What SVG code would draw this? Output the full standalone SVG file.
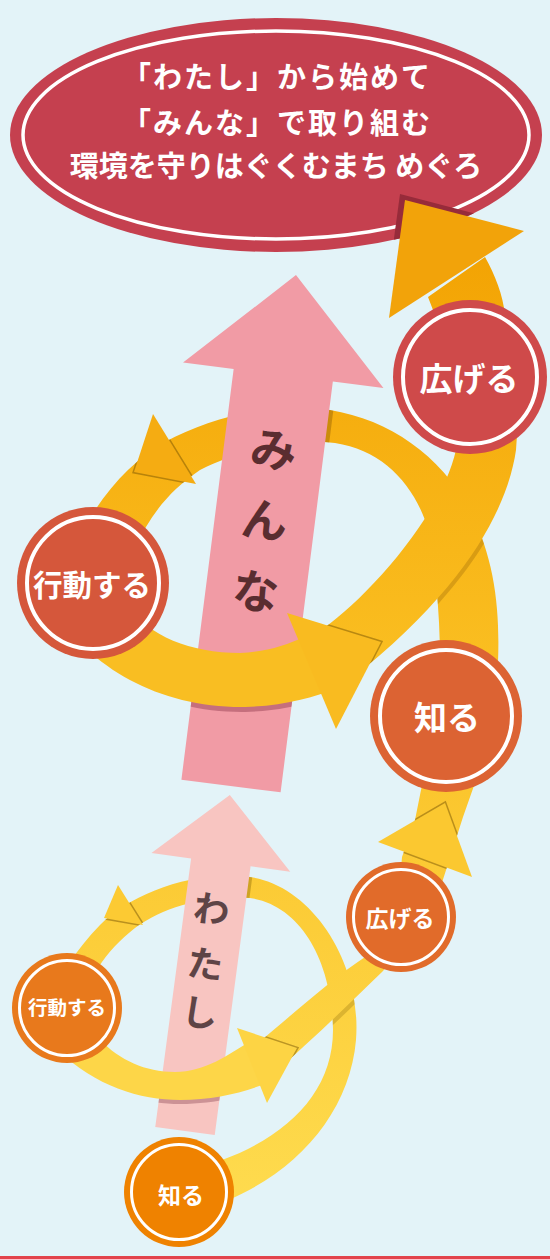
<svg xmlns="http://www.w3.org/2000/svg" width="550" height="1259" viewBox="0 0 550 1259">
<style>
.t{font-family:"Noto Sans CJK JP","Noto Sans",sans-serif;font-weight:700;text-anchor:middle;dominant-baseline:central}
.w{fill:#fff}
.ring{fill:none;stroke:#fff}
.pk{fill:#5a2d30}
.sh{fill:none;stroke:#6b4a00;stroke-opacity:0.45;stroke-width:3;stroke-linejoin:miter}
</style>
<defs>
<linearGradient id="gBig" gradientUnits="userSpaceOnUse" x1="0" y1="200" x2="0" y2="720">
<stop offset="0" stop-color="#f2a000"/><stop offset="1" stop-color="#fbc225"/>
</linearGradient>
<linearGradient id="gSmall" gradientUnits="userSpaceOnUse" x1="0" y1="790" x2="0" y2="1200">
<stop offset="0" stop-color="#fbc62e"/><stop offset="1" stop-color="#fedb4e"/>
</linearGradient>
<ellipse id="ell" cx="276" cy="135" rx="266" ry="117"/>
<polygon id="pinkBig" points="-50,0 50,0 50,-414 101,-414 0,-515 -101,-414 -50,-414" transform="translate(231,786) rotate(7.25)"/>
<polygon id="pinkSmall" points="-30,0 30,0 30,-271 70,-271 0,-339 -70,-271 -30,-271" transform="translate(185,1131) rotate(7.6)"/>
<path id="bandA" d="M498,662 C500,610 495,560 470,510 C440,455 390,420 330,410 C270,402 210,418 165,442 C130,462 100,495 75,545 L135,548 C150,515 170,490 200,470 C240,450 290,438 335,443 C380,450 410,480 425,520 C435,560 440,610 440,662 Z"/>
<path id="bandB" d="M55,610 C90,668 160,708 245,707 C282,706 312,698 338,688 L306,636 C285,646 265,652 240,653 C190,653 150,636 125,605 Z"/>
<path id="bandC" d="M318,632 C360,605 440,520 456,450 L470,385 L433,310 L428,297 L485,257 C495,275 503,295 505,315 L520,390 L516,450 C508,505 470,585 350,680 Z"/>
<polygon id="arrA" points="153,414 196,484 134,472"/>
<polygon id="arrB" points="287,613 336,729 381,642"/>
<polygon id="arrTop" points="405,200 524,231 389,318"/>
<path id="bandSA" d="M228,1200 C300,1170 350,1110 356,1040 C362,960 310,885 250,877 C190,870 130,895 100,925 C88,937 78,950 68,965 L98,968 C108,952 120,940 135,928 C165,906 205,896 250,898 C300,905 332,960 333,1030 C333,1090 290,1135 222,1160 Z"/>
<path id="bandSB" d="M58,1050 C95,1086 140,1100 180,1100 C215,1100 245,1092 270,1082 L252,1040 C228,1055 205,1072 175,1072 C145,1072 120,1060 100,1040 Z"/>
<path id="bandSC" d="M258,1043 C292,1015 330,980 368,955 L400,880 L402,857 L415,820 L423,780 L476,780 L463,817 L447,867 L430,920 L382,972 C348,1005 312,1040 272,1075 Z"/>
<polygon id="arrSA" points="118,885 143,925 104,918"/>
<polygon id="arrSB" points="237,1028 267,1103 297,1048"/>
<polygon id="arrSC" points="378,842 472,877 445,803"/>
<clipPath id="cEll"><use href="#ell"/></clipPath>
<clipPath id="cA"><use href="#bandA"/></clipPath>
<clipPath id="cC"><use href="#bandC"/></clipPath>
<clipPath id="cPinkBig"><use href="#pinkBig"/></clipPath>
<clipPath id="cPinkSmall"><use href="#pinkSmall"/></clipPath>
<clipPath id="cSA"><use href="#bandSA"/></clipPath>
<clipPath id="cSC"><use href="#bandSC"/></clipPath>
</defs>

<rect width="550" height="1259" fill="#e3f3f8"/>
<rect y="1256" width="550" height="3" fill="#e2424b"/>

<g id="goal">
<use href="#ell" fill="#c5404f"/>
<ellipse cx="276" cy="135" rx="253" ry="104" class="ring" stroke-width="3.5"/>
<text class="t w" x="277" y="75" font-size="29" letter-spacing="2">「わたし」から始めて</text>
<text class="t w" x="277" y="121" font-size="29" letter-spacing="2">「みんな」で取り組む</text>
<text class="t w" x="276" y="164" font-size="29">環境を守りはぐくむまち めぐろ</text>
</g>

<g id="connectors-back">
<use href="#bandA" fill="url(#gBig)"/>
<g clip-path="url(#cA)"><use href="#arrA" class="sh"/></g>
<use href="#arrA" fill="#f5ac12"/>
<g clip-path="url(#cA)"><use href="#pinkBig" fill="#7a4a00" fill-opacity="0.35" x="4" y="1"/></g>
<use href="#bandSA" fill="url(#gSmall)"/>
<g clip-path="url(#cSA)"><use href="#arrSA" class="sh"/></g>
<use href="#arrSA" fill="#fcca33"/>
<g clip-path="url(#cSA)"><use href="#pinkSmall" fill="#7a5a00" fill-opacity="0.35" x="3" y="1"/></g>
</g>

<g id="minna">
<use href="#pinkBig" fill="#f19ba5"/>
<g transform="translate(231,786) rotate(7.25)">
<text class="t pk" x="0" y="-342" font-size="46">み</text>
<text class="t pk" x="0" y="-271" font-size="46">ん</text>
<text class="t pk" x="0" y="-199" font-size="46">な</text>
</g>
</g>

<g id="watashi">
<use href="#pinkSmall" fill="#f8c5c1"/>
<g transform="translate(185,1131) rotate(7.6)">
<text class="t" fill="#5e4446" x="-3" y="-226" font-size="36">わ</text>
<text class="t" fill="#5e4446" x="-2" y="-171" font-size="36">た</text>
<text class="t" fill="#5e4446" x="-1" y="-122" font-size="36">し</text>
</g>
</g>

<g id="connectors-front">
<g clip-path="url(#cPinkBig)"><use href="#bandB" fill="#a04a5c" fill-opacity="0.55" y="5"/></g>
<use href="#bandB" fill="#f9be22"/>
<g clip-path="url(#cA)"><use href="#bandC" fill="#7a4a00" fill-opacity="0.25" x="3" y="3"/></g>
<use href="#bandC" fill="url(#gBig)"/>
<g clip-path="url(#cC)"><use href="#arrB" class="sh"/></g>
<use href="#arrB" fill="#f9bb20"/>
<g clip-path="url(#cEll)"><use href="#arrTop" fill="#972b3a" x="-5" y="-6"/></g>
<use href="#arrTop" fill="#f2a30a"/>
<g clip-path="url(#cPinkSmall)"><use href="#bandSB" fill="#a0606a" fill-opacity="0.5" y="4"/></g>
<use href="#bandSB" fill="#fdd648"/>
<g clip-path="url(#cSA)"><use href="#bandSC" fill="#7a5a00" fill-opacity="0.25" x="3" y="3"/></g>
<use href="#bandSC" fill="url(#gSmall)"/>
<g clip-path="url(#cSC)"><use href="#arrSB" class="sh"/><use href="#arrSC" class="sh"/></g>
<use href="#arrSB" fill="#fdd444"/>
<use href="#arrSC" fill="#fbc830"/>
</g>

<g id="big-hirogeru">
<circle cx="470" cy="377" r="77" fill="#cf4a4a"/>
<circle cx="470" cy="377" r="67" class="ring" stroke-width="4"/>
<text class="t w" x="469" y="377" font-size="33">広げる</text>
</g>
<g id="big-koudou">
<circle cx="93" cy="583" r="76" fill="#d5573b"/>
<circle cx="93" cy="583" r="66" class="ring" stroke-width="4"/>
<text class="t w" x="92" y="583" font-size="29.5">行動する</text>
</g>
<g id="big-shiru">
<circle cx="446" cy="716" r="76" fill="#dc6333"/>
<circle cx="446" cy="716" r="66" class="ring" stroke-width="4"/>
<text class="t w" x="447" y="716" font-size="33">知る</text>
</g>
<g id="small-hirogeru">
<circle cx="401" cy="917" r="55" fill="#e16b2a"/>
<circle cx="401" cy="917" r="47.5" class="ring" stroke-width="3"/>
<text class="t w" x="400" y="917" font-size="23">広げる</text>
</g>
<g id="small-koudou">
<circle cx="67" cy="1008" r="55" fill="#e8791c"/>
<circle cx="67" cy="1008" r="47.5" class="ring" stroke-width="3"/>
<text class="t w" x="67" y="1006" font-size="19.5">行動する</text>
</g>
<g id="small-shiru">
<circle cx="179" cy="1192" r="55" fill="#ef8200"/>
<circle cx="179" cy="1192" r="47.5" class="ring" stroke-width="3"/>
<text class="t w" x="181" y="1194" font-size="23">知る</text>
</g>
</svg>
